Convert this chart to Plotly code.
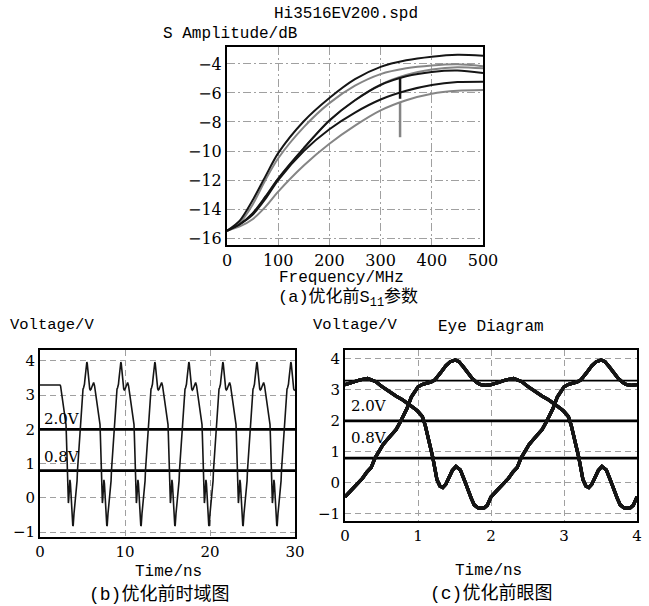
import plotly.graph_objects as go

W, H = 649, 606

# ---------------- (a) S11 data ----------------
freq_mhz = [0, 25, 50, 75, 100, 150, 200, 250, 300, 350, 400, 450, 500]
s11_a = [-15.5, -14.8, -13.4, -11.75, -10.15, -7.95, -6.35, -5.05, -4.2, -3.75, -3.5, -3.37, -3.43]
s11_b = [-15.5, -14.95, -13.7, -12.0, -10.5, -8.35, -6.7, -5.5, -4.7, -4.3, -4.1, -4.02, -4.15]
s11_c = [-15.5, -15.05, -14.3, -13.15, -11.9, -9.8, -7.9, -6.5, -5.45, -4.85, -4.55, -4.45, -4.62]
s11_c2 = [-15.5, -15.05, -14.3, -13.15, -11.9, -9.8, -7.9, -6.5, -5.42, -4.75, -4.38, -4.22, -4.3]
s11_d = [-15.5, -15.05, -14.4, -13.3, -12.0, -10.0, -8.5, -7.35, -6.45, -5.85, -5.45, -5.25, -5.22]
s11_e = [-15.5, -15.2, -14.7, -13.85, -12.8, -11.0, -9.5, -8.25, -7.2, -6.5, -6.05, -5.85, -5.8]
spike_freq = [338, 338]
spike_black = [-4.97, -6.4]
spike_gray = [-6.65, -9.05]

# ---------------- (b) time-domain data ----------------
# one 4 ns period of the waveform (phase in ns, voltage in V)
period_phase = [0.00, 0.08, 0.16, 0.24, 0.30, 0.36, 0.41, 0.47, 0.52, 0.58, 0.64, 0.70, 0.75, 0.80,
                0.85, 0.91, 0.96, 1.00, 1.06, 1.12, 1.18, 1.23, 1.28, 1.32, 1.38, 1.44, 1.51, 1.56,
                1.62, 1.68, 1.74, 1.80, 1.85, 1.92, 2.00, 2.10, 2.20, 2.31, 2.42, 2.50, 2.60, 2.70,
                2.79, 2.86, 2.92, 2.99, 3.06, 3.10, 3.13, 3.17, 3.20, 3.23, 3.26, 3.30, 3.34, 3.38,
                3.42, 3.47, 3.52, 3.58, 3.63, 3.68, 3.73, 3.77, 3.82, 3.86, 3.91, 3.95, 3.98]
period_v = [-0.45, -0.25, -0.06, 0.15, 0.35, 0.50, 0.80, 1.05, 1.23, 1.40, 1.55, 1.72, 1.93, 2.15,
            2.41, 2.78, 2.98, 3.10, 3.18, 3.21, 3.26, 3.32, 3.45, 3.59, 3.78, 3.91, 3.97, 3.92,
            3.75, 3.55, 3.38, 3.25, 3.18, 3.15, 3.17, 3.24, 3.32, 3.37, 3.27, 3.12, 2.95, 2.80,
            2.68, 2.57, 2.46, 2.33, 2.14, 1.85, 1.50, 1.15, 0.85, 0.45, 0.10, -0.10, -0.15, -0.05,
            0.15, 0.40, 0.53, 0.42, 0.12, -0.23, -0.50, -0.71, -0.80, -0.82, -0.80, -0.72, -0.58]
lead_t = [0.0, 2.35]
lead_v = [3.3, 3.3]
first_period_start = 4.0
period_ns = 4.0
t_end = 30.0
thresholds = [2.0, 0.8]
vcc = 3.3

# build time series
t_series = list(lead_t)
v_series = list(lead_v)
for p, v in zip(period_phase, period_v):
    if p > lead_t[-1]:
        t_series.append(p)
        v_series.append(v)
start = first_period_start
while start < t_end:
    for p, v in zip(period_phase, period_v):
        t = round(start + p, 6)
        if t <= t_end:
            t_series.append(t)
            v_series.append(v)
    start += period_ns

fig = go.Figure()

gray = "#858585"
black = "#151515"

# (a) curves: gray first, black on top
for ys, col in [(s11_b, gray), (s11_c2, gray), (s11_e, gray), (s11_a, black), (s11_c, black), (s11_d, black)]:
    fig.add_trace(go.Scatter(x=freq_mhz, y=ys, mode="lines", line=dict(color=col, width=2, shape="spline", smoothing=0.8),
                             xaxis="x", yaxis="y", showlegend=False, hoverinfo="skip"))
fig.add_trace(go.Scatter(x=spike_freq, y=spike_gray, mode="lines", line=dict(color=gray, width=2.5),
                         xaxis="x", yaxis="y", showlegend=False))
fig.add_trace(go.Scatter(x=spike_freq, y=spike_black, mode="lines", line=dict(color=black, width=2.5),
                         xaxis="x", yaxis="y", showlegend=False))

# (b) thresholds and waveform
for th in thresholds:
    fig.add_trace(go.Scatter(x=[0, t_end], y=[th, th], mode="lines", line=dict(color="black", width=2.8),
                             xaxis="x2", yaxis="y2", showlegend=False))
fig.add_trace(go.Scatter(x=t_series, y=v_series, mode="lines", line=dict(color=black, width=1.6),
                         xaxis="x2", yaxis="y2", showlegend=False))

# (c) eye diagram: fold the waveform into 4 ns windows every 2 ns
ui_ns = 2.0
eye_span = 4.0
fig.add_trace(go.Scatter(x=[0, eye_span], y=[vcc, vcc], mode="lines", line=dict(color="black", width=1.6),
                         xaxis="x3", yaxis="y3", showlegend=False))
for th in thresholds:
    fig.add_trace(go.Scatter(x=[0, eye_span], y=[th, th], mode="lines", line=dict(color="black", width=2.8),
                             xaxis="x3", yaxis="y3", showlegend=False))
s = first_period_start
while s + eye_span <= t_end + 1e-9:
    xs, ys = [], []
    for t, v in zip(t_series, v_series):
        if s - 1e-9 <= t <= s + eye_span + 1e-9:
            xs.append(round(t - s, 6))
            ys.append(v)
    fig.add_trace(go.Scatter(x=xs, y=ys, mode="lines", line=dict(color=black, width=3.2),
                             xaxis="x3", yaxis="y3", showlegend=False))
    s += ui_ns

def dom_x(a, b):
    return [a / W, b / W]

def dom_y(top, bottom):
    return [1 - bottom / H, 1 - top / H]

tickfont_a = dict(family="DejaVu Serif", size=16, color="black")
tickfont_b = dict(family="DejaVu Serif", size=15, color="black")
grid = "#a0a0a0"
dashdot = "8px,3px,2px,3px"
dashed = "6px,4px"

common = dict(showline=True, linecolor="black", mirror=True, ticks="", showgrid=True, automargin=False,
              gridcolor=grid, gridwidth=1, zeroline=False, fixedrange=True)

fig.update_layout(
    template="none",
    width=W, height=H, margin=dict(l=0, r=0, t=0, b=0, pad=0), autosize=False,
    paper_bgcolor="white", plot_bgcolor="white", showlegend=False,
    xaxis=dict(domain=dom_x(227, 483), range=[0, 500], tickvals=[0, 100, 200, 300, 400, 500],
               anchor="y", griddash=dashdot, linewidth=2, tickfont=tickfont_a, **common),
    yaxis=dict(domain=dom_y(47, 245), range=[-16.48, -2.83], tickvals=[-16, -14, -12, -10, -8, -6, -4],
               anchor="x", griddash=dashdot, linewidth=2, tickfont=tickfont_a, **common),
    xaxis2=dict(domain=dom_x(40, 295), range=[0, 30], tickvals=[0, 10, 20, 30],
                anchor="y2", griddash=dashed, linewidth=1.8, tickfont=tickfont_b, **common),
    yaxis2=dict(domain=dom_y(350, 537), range=[-1.14, 4.32], tickvals=[-1, 0, 1, 2, 3, 4],
                anchor="x2", griddash=dashed, linewidth=1.8, tickfont=tickfont_b, **common),
    xaxis3=dict(domain=dom_x(345, 637), range=[0, 4], tickvals=[0, 1, 2, 3, 4],
                anchor="y3", griddash=dashed, linewidth=1.8, tickfont=tickfont_b, **common),
    yaxis3=dict(domain=dom_y(350, 521), range=[-1.23, 4.29], tickvals=[-1, 0, 1, 2, 3, 4],
                anchor="x3", griddash=dashed, linewidth=1.8, tickfont=tickfont_b, **common),
)

mono = "Liberation Mono, Noto Sans CJK SC"
serif = "DejaVu Serif"

def label(text, px, py, size, xanchor="center", family=mono):
    fig.add_annotation(text=text, x=px / W, y=1 - py / H, xref="paper", yref="paper",
                       xanchor=xanchor, yanchor="middle", showarrow=False,
                       font=dict(family=family, size=size, color="black"))

label("Hi3516EV200.spd", 346, 14, 16)
label("S Amplitude/dB", 161, 34, 16, xanchor="left")
label("Frequency/MHz", 341, 278, 16)
label("(a)优化前S<sub>11</sub>参数", 348, 299, 17)

label("Voltage/V", 8, 325, 15.5, xanchor="left")
label("2.0V", 42, 419, 15, xanchor="left", family=serif)
label("0.8V", 42, 457, 15, xanchor="left", family=serif)
label("Time/ns", 168, 572, 16)
label("(b)优化前时域图", 159, 594, 18)

label("Voltage/V", 311, 325, 15.5, xanchor="left")
label("Eye Diagram", 491, 327, 16)
label("2.0V", 349, 406, 15, xanchor="left", family=serif)
label("0.8V", 349, 438, 15, xanchor="left", family=serif)
label("Time/ns", 488, 571, 16)
label("(c)优化前眼图", 491, 593, 18)

fig.write_html("out.html")
